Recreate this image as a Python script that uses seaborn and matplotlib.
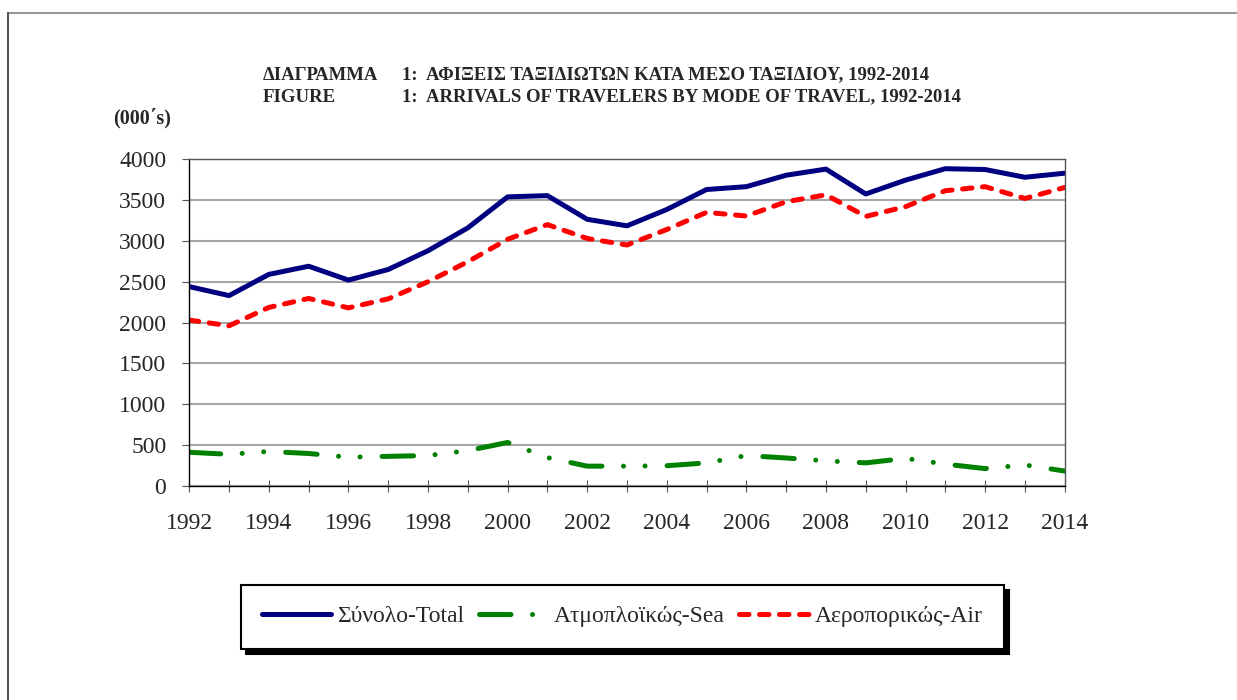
import numpy as np
import pandas as pd
import matplotlib
matplotlib.use("Agg")
import matplotlib.pyplot as plt
from matplotlib.lines import Line2D
import seaborn as sns

# ---- data (thousands of arrivals) ----
years = list(range(1992, 2015))
total = [2440, 2330, 2590, 2690, 2520, 2650, 2880, 3160, 3540, 3555, 3265, 3185,
         3385, 3630, 3665, 3805, 3880, 3575, 3745, 3885, 3875, 3780, 3830]
sea = [410, 385, 420, 395, 350, 360, 370, 430, 530, 345, 240, 240,
       245, 280, 370, 340, 305, 280, 335, 265, 210, 255, 180]
air = [2030, 1960, 2185, 2295, 2180, 2290, 2500, 2745, 3020, 3200, 3030, 2950,
       3140, 3350, 3305, 3480, 3565, 3300, 3420, 3615, 3665, 3520, 3655]

labels = ["Σύνολο-Total", "Ατμοπλοϊκώς-Sea", "Αεροπορικώς-Air"]
title_left = ["ΔΙΑΓΡΑΜΜΑ", "FIGURE"]
title_right = ["1:  ΑΦΙΞΕΙΣ ΤΑΞΙΔΙΩΤΩΝ ΚΑΤΑ ΜΕΣΟ ΤΑΞΙΔΙΟΥ, 1992-2014",
               "1:  ARRIVALS OF TRAVELERS BY MODE OF TRAVEL, 1992-2014"]
unit_label = "(000΄s)"

sns.set_style("white")
plt.rcParams["font.family"] = ["Liberation Serif", "DejaVu Serif"]

fig = plt.figure(figsize=(12.37, 7.0), dpi=100)
ax = fig.add_axes([0.153, 0.3061, 0.7077, 0.4663])

LW = 3.6
sns.lineplot(x=years, y=total, ax=ax, color="#000080", linewidth=LW,
             solid_capstyle="round", label=labels[0])
sns.lineplot(x=years, y=sea, ax=ax, color="#008000", linewidth=LW,
             dashes=(6.3, 4.3, 0.01, 4.3, 0.01, 4.4), dash_capstyle="round",
             label=labels[1])
sns.lineplot(x=years, y=air, ax=ax, color="#ff0000", linewidth=LW,
             dashes=(1.9, 2.1), dash_capstyle="round", label=labels[2])
ax.get_legend().remove()

ax.set_xlim(1992, 2014)
ax.set_ylim(0, 4000)
ax.set_yticks(np.arange(0, 4001, 500))
ax.set_xticks(np.arange(1992, 2015, 2))
ax.set_xticks(np.arange(1992, 2015, 1), minor=True)
ax.set_xlabel("")
ax.set_ylabel("")

ax.yaxis.grid(True, color="#a6a6a6", linewidth=1.5)
ax.set_axisbelow(True)
for s in ["left", "bottom"]:
    ax.spines[s].set_color("black")
    ax.spines[s].set_linewidth(1.0)
for s in ["top", "right"]:
    ax.spines[s].set_color("#555555")
    ax.spines[s].set_linewidth(1.0)

ax.tick_params(axis="y", which="major", direction="out", length=5, width=0.8,
               color="#555555", pad=11.5, labelsize=17, left=True)
ax.tick_params(axis="x", which="both", direction="inout", length=8, width=0.8,
               color="#555555", bottom=True)
ax.tick_params(axis="x", which="major", pad=15.5, labelsize=17)

# ---- titles ----
for i, (l, r) in enumerate(zip(title_left, title_right)):
    yy = 1 - (75 + 22 * i) / 700
    fig.text(263 / 1237, yy, l, fontsize=13.5, fontweight="bold", va="center", ha="left")
    fig.text(402 / 1237, yy, r, fontsize=13.5, fontweight="bold", va="center", ha="left")
fig.text(113 / 1237, 1 - 118 / 700, unit_label, fontsize=14.5, fontweight="bold",
         va="center", ha="left")

# ---- page frame ----
fig.add_artist(Line2D([8 / 1237, 1.0], [1 - 13 / 700, 1 - 13 / 700],
                      transform=fig.transFigure, color="#999999", linewidth=1.5))
fig.add_artist(Line2D([8 / 1237, 8 / 1237], [0.0, 1 - 13 / 700],
                      transform=fig.transFigure, color="#555555", linewidth=1.5))

# ---- legend ----
handles = ax.get_lines()[:3]
leg = fig.legend(handles, labels, loc="center", bbox_to_anchor=(0.503, 0.119),
                 ncol=3, frameon=True, fancybox=False, edgecolor="black",
                 shadow={"ox": 4, "oy": -4, "color": "black", "alpha": 1.0},
                 handlelength=2.95, handletextpad=0.25, columnspacing=0.6,
                 borderpad=0.9, fontsize=17)
leg.get_frame().set_linewidth(1.5)
leg.get_frame().set_alpha(1.0)

fig.savefig("out.png", dpi=100)
